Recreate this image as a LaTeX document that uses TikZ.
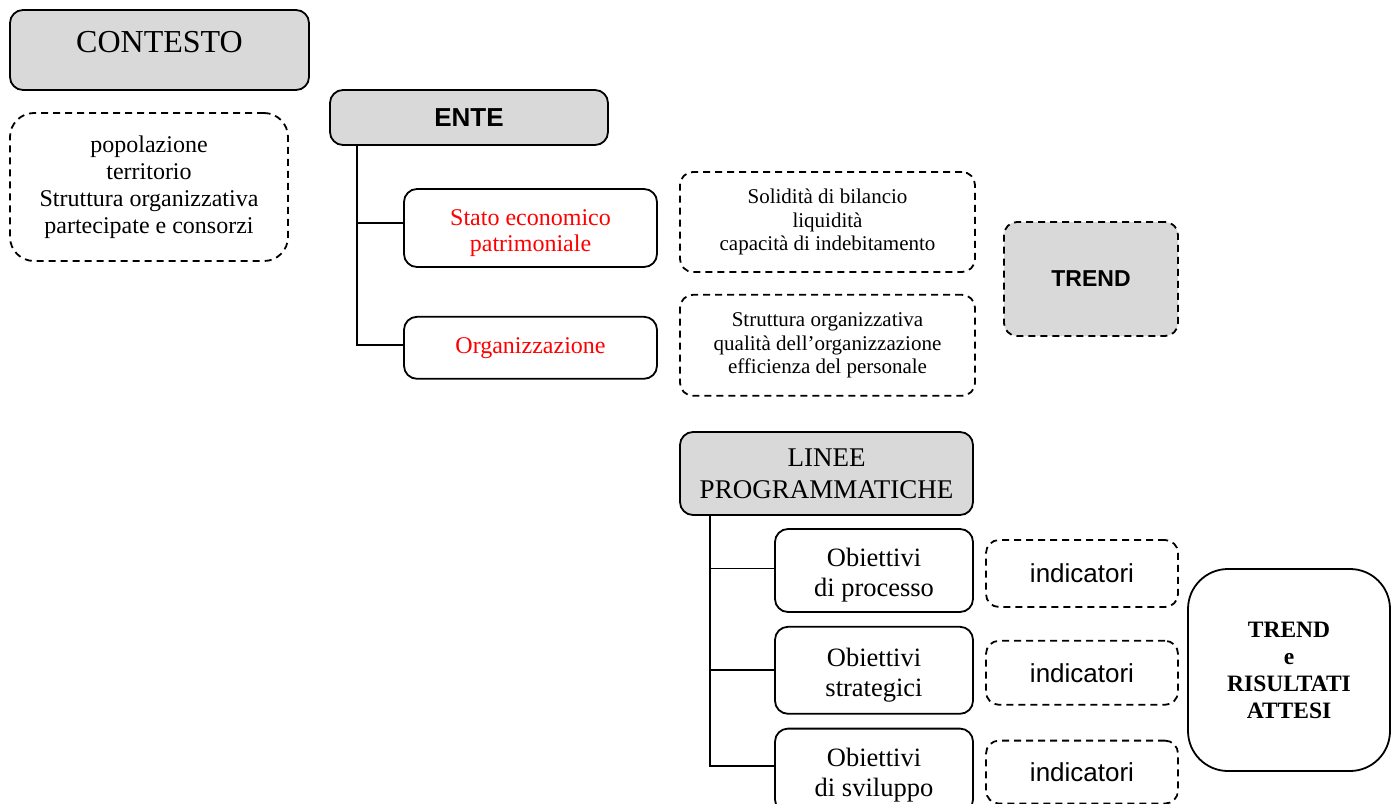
\documentclass[tikz,border=0pt]{standalone}
\usepackage{fontspec}
\setmainfont{Liberation Serif}
\setsansfont{Liberation Sans}
\usetikzlibrary{positioning}
\definecolor{boxgray}{RGB}{217,217,217}
\definecolor{itemred}{RGB}{255,0,0}

\begin{document}
\begin{tikzpicture}[
    x=1pt,y=-1pt,
    line width=1.8pt,
    solidbox/.style={rectangle,rounded corners=13pt,draw=black,align=center,inner sep=0pt},
    dashbox/.style={solidbox,dash pattern=on 7pt off 5pt},
    headbox/.style={solidbox,fill=boxgray},
    itembox/.style={solidbox,text=itemred,minimum width=253pt,font=\fontsize{24}{26}\selectfont},
    notebox/.style={dashbox,minimum width=295pt,font=\fontsize{21}{23.5}\selectfont},
    goalbox/.style={solidbox,minimum width=198pt,text height=52pt,text depth=0pt,
      font=\fontsize{26.5}{30}\selectfont},
    indbox/.style={dashbox,minimum width=192pt,font=\sffamily\fontsize{26}{30}\selectfont}
  ]
    \useasboundingbox (0,0) rectangle (1397,803);
    \clip (0,0) rectangle (1397,803);

    % contesto
    \node[headbox,minimum width=299pt,minimum height=80pt,text depth=16pt,
      font=\fontsize{32}{38}\selectfont] (contesto) at (159.5,50) {CONTESTO};
    \node[dashbox,rounded corners=24pt,minimum width=278pt,minimum height=148pt,
      font=\fontsize{24}{27}\selectfont] (popol) at (149,187)
      {popolazione\\territorio\\Struttura organizzativa\\partecipate e consorzi};

    % ente
    \node[headbox,minimum width=278pt,minimum height=55pt,
      font=\sffamily\bfseries\fontsize{26}{30}\selectfont] (ente) at (469,117.5) {ENTE};
    \node[itembox,minimum height=78pt,text height=47pt,text depth=0pt] (stato) at (530.5,228)
      {Stato economico\\patrimoniale};
    \node[itembox,minimum height=62pt,below=48pt of stato] (organ) {Organizzazione};
    \node[notebox,minimum height=100pt] (solid) at (827.5,222)
      {Solidità di bilancio\\liquidità\\capacità di indebitamento};
    \node[notebox,minimum height=101pt,below=21pt of solid] (strutt)
      {Struttura organizzativa\\qualità dell’organizzazione\\efficienza del personale};
    \node[dashbox,fill=boxgray,minimum width=174pt,minimum height=114pt,
      font=\sffamily\bfseries\fontsize{23}{27}\selectfont] (trend) at (1091,279) {TREND};

    % linee programmatiche
    \node[headbox,minimum width=293pt,minimum height=83pt,
      font=\fontsize{27}{32}\selectfont] (linee) at (826.5,473.5) {LINEE\\PROGRAMMATICHE};
    \node[goalbox,minimum height=83pt] (obproc) at (874,570.5) {Obiettivi\\di processo};
    \node[goalbox,minimum height=87pt,below=13pt of obproc] (obstrat) {Obiettivi\\strategici};
    \node[goalbox,minimum height=84pt,below=13pt of obstrat] (obsvil) {Obiettivi\\di sviluppo};
    \node[indbox,minimum height=67pt] (ind1) at (1082,573.5) {indicatori};
    \node[indbox,minimum height=64pt,below=32pt of ind1] (ind2) {indicatori};
    \node[indbox,minimum height=63pt,below=34pt of ind2] (ind3) {indicatori};
    \node[solidbox,rounded corners=40pt,minimum width=202pt,minimum height=202pt,
      font=\bfseries\fontsize{23.5}{27}\selectfont] (result) at (1289,670)
      {TREND\\e\\RISULTATI\\ATTESI};

    \draw ([xshift=28pt]ente.south west) |- ([yshift=5pt]stato.west);
    \draw ([xshift=28pt]ente.south west) |- ([yshift=3pt]organ.west);
    \draw ([xshift=31pt]linee.south west) |- ([yshift=2pt]obproc.west);
    \draw ([xshift=31pt]linee.south west) |- (obstrat.west);
    \draw ([xshift=31pt]linee.south west) |- ([yshift=5pt]obsvil.west);
  \end{tikzpicture}
\end{document}
